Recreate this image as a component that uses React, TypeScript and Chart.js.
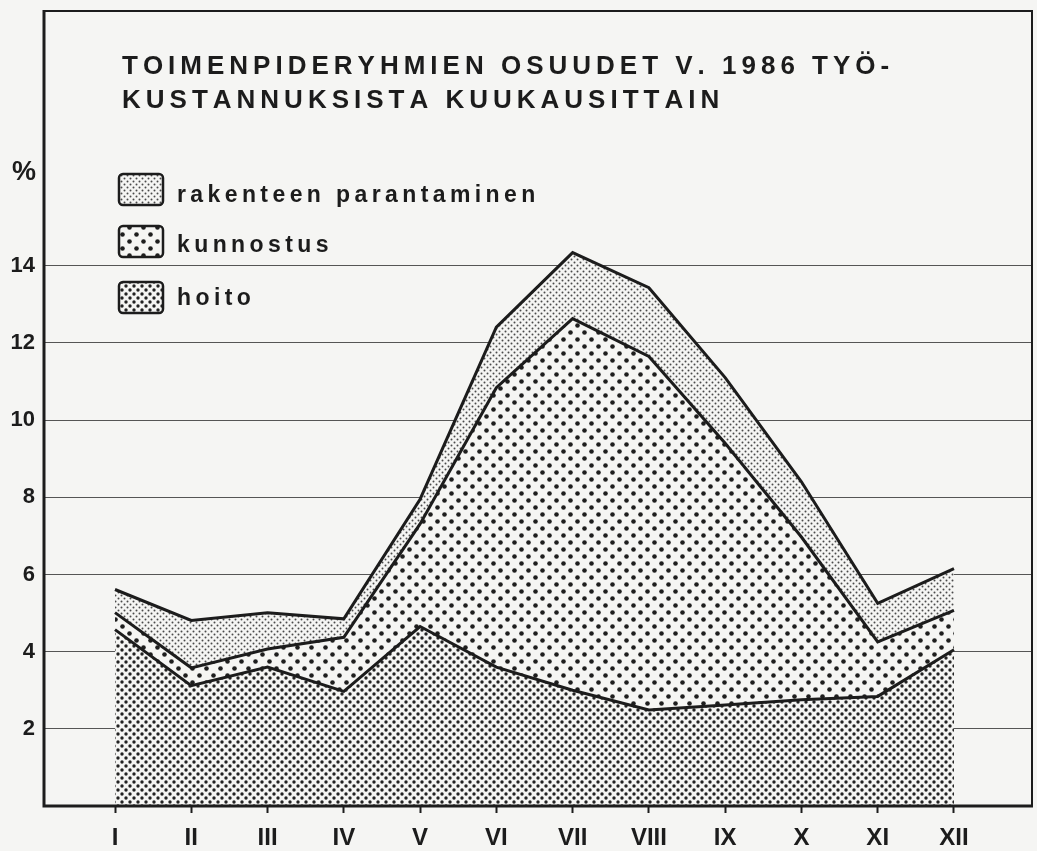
import React, { useEffect, useRef } from "react";
import { Chart, registerables } from "chart.js";

Chart.register(...registerables);

const MONTHS = ["I", "II", "III", "IV", "V", "VI", "VII", "VIII", "IX", "X", "XI", "XII"];
const HOITO = [4.57, 3.12, 3.6, 2.97, 4.65, 3.6, 3.0, 2.49, 2.62, 2.75, 2.84, 4.05];
const KUNNOSTUS = [0.44, 0.46, 0.47, 1.4, 2.66, 7.24, 9.63, 9.16, 6.78, 4.22, 1.41, 1.02];
const RAKENTEEN = [0.6, 1.23, 0.94, 0.48, 0.64, 1.57, 1.71, 1.78, 1.7, 1.43, 1.0, 1.08];
const Y_TICKS = [2, 4, 6, 8, 10, 12, 14];
const TITLE_LINES = ["TOIMENPIDERYHMIEN OSUUDET V. 1986 TYÖ-", "KUSTANNUKSISTA KUUKAUSITTAIN"];
const LEGEND_LABELS = ["rakenteen parantaminen", "kunnostus", "hoito"];
const UNIT_LABEL = "%";

const FONT = "'Liberation Sans', Arial, Helvetica, sans-serif";
const BG = "#f5f5f3";
const INK = "#1c1c1c";

function makePattern(
  ctx: CanvasRenderingContext2D,
  size: number,
  dots: [number, number][],
  r: number,
  color: string
): CanvasPattern | string {
  const c = document.createElement("canvas");
  c.width = size;
  c.height = size;
  const g = c.getContext("2d")!;
  g.fillStyle = BG;
  g.fillRect(0, 0, size, size);
  g.fillStyle = color;
  for (const [x, y] of dots) {
    g.beginPath();
    g.arc(x, y, r, 0, Math.PI * 2);
    g.fill();
  }
  return ctx.createPattern(c, "repeat") || color;
}

function drawSpaced(ctx: CanvasRenderingContext2D, text: string, x: number, y: number, spacing: number) {
  let cx = x;
  for (const ch of text) {
    ctx.fillText(ch, cx, y);
    cx += ctx.measureText(ch).width + spacing;
  }
}

export default function App() {
  const ref = useRef<HTMLCanvasElement | null>(null);

  useEffect(() => {
    const canvas = ref.current;
    if (!canvas) return;
    const ctx = canvas.getContext("2d")!;

    const patHoito = makePattern(ctx, 8, [[2, 2], [6, 6]], 1.7, "#222");
    const patKunn = makePattern(ctx, 14, [[3.5, 3.5], [10.5, 10.5]], 2.3, "#1e1e1e");
    const patRak = makePattern(ctx, 6, [[1.5, 1.5], [4.5, 4.5]], 1.0, "#4a4a4a");
    const patterns = [patRak, patKunn, patHoito];

    const bgPlugin = {
      id: "bg",
      beforeDraw(chart: any) {
        const c = chart.ctx;
        c.save();
        c.fillStyle = BG;
        c.fillRect(0, 0, chart.width, chart.height);
        c.restore();
      },
    };

    const decoPlugin = {
      id: "deco",
      afterDraw(chart: any) {
        const c: CanvasRenderingContext2D = chart.ctx;
        const a = chart.chartArea;
        c.save();
        // frame
        c.strokeStyle = INK;
        c.lineWidth = 2;
        c.beginPath();
        c.moveTo(a.left, a.top);
        c.lineTo(a.right, a.top);
        c.lineTo(a.right, a.bottom);
        c.stroke();
        c.lineWidth = 3;
        c.beginPath();
        c.moveTo(a.left, a.top - 1);
        c.lineTo(a.left, a.bottom);
        c.lineTo(a.right + 1, a.bottom);
        c.stroke();

        // title
        c.fillStyle = INK;
        c.textBaseline = "alphabetic";
        c.textAlign = "left";
        c.font = `bold 26px ${FONT}`;
        drawSpaced(c, TITLE_LINES[0], 122, 74, 5.0);
        drawSpaced(c, TITLE_LINES[1], 122, 108, 5.0);

        // unit
        c.font = `bold 27px ${FONT}`;
        c.fillText(UNIT_LABEL, 12, 180);

        // legend
        const rows = [
          { y: 174, base: 202 },
          { y: 226, base: 252 },
          { y: 282, base: 305 },
        ];
        c.font = `bold 23px ${FONT}`;
        rows.forEach((row, i) => {
          c.beginPath();
          const x0 = 119, w = 44, h = 31, r = 4;
          c.moveTo(x0 + r, row.y);
          c.arcTo(x0 + w, row.y, x0 + w, row.y + h, r);
          c.arcTo(x0 + w, row.y + h, x0, row.y + h, r);
          c.arcTo(x0, row.y + h, x0, row.y, r);
          c.arcTo(x0, row.y, x0 + w, row.y, r);
          c.closePath();
          c.fillStyle = patterns[i] as any;
          c.fill();
          c.lineWidth = 2.5;
          c.strokeStyle = INK;
          c.stroke();
          c.fillStyle = INK;
          drawSpaced(c, LEGEND_LABELS[i], 177, row.base, 4.4);
        });
        c.restore();
      },
    };

    const toPts = (arr: number[]) => arr.map((v, i) => ({ x: i, y: v }));
    const lineCommon = {
      borderColor: INK,
      borderWidth: 3,
      pointRadius: 0,
      tension: 0,
      borderJoinStyle: "miter" as const,
    };

    const chart = new Chart(canvas, {
      type: "line",
      data: {
        datasets: [
          { label: LEGEND_LABELS[2], data: toPts(HOITO), fill: "origin", backgroundColor: patHoito as any, ...lineCommon },
          { label: LEGEND_LABELS[1], data: toPts(KUNNOSTUS), fill: "-1", backgroundColor: patKunn as any, ...lineCommon },
          { label: LEGEND_LABELS[0], data: toPts(RAKENTEEN), fill: "-1", backgroundColor: patRak as any, ...lineCommon },
        ],
      },
      options: {
        responsive: false,
        animation: false,
        devicePixelRatio: 1,
        layout: { padding: { top: 11, right: 5, left: 0, bottom: 0 } },
        plugins: {
          legend: { display: false },
          tooltip: { enabled: false },
          title: { display: false },
        },
        scales: {
          x: {
            type: "linear",
            min: -0.931,
            max: 12.023,
            border: { display: false },
            grid: {
              drawOnChartArea: false,
              drawTicks: true,
              tickLength: 7,
              tickColor: INK,
              tickWidth: 2,
            } as any,
            ticks: {
              stepSize: 1,
              padding: 11,
              color: INK,
              font: { family: FONT, size: 24, weight: "bold" },
              callback: (v: any) => MONTHS[Number(v)] ?? "",
              maxRotation: 0,
              autoSkip: false,
            },
            afterBuildTicks: (scale: any) => {
              scale.ticks = MONTHS.map((_, i) => ({ value: i }));
            },
            afterFit: (scale: any) => {
              scale.height = 45;
              scale.paddingLeft = 0;
              scale.paddingRight = 0;
            },
          },
          y: {
            type: "linear",
            stacked: true,
            min: 0,
            max: 20.6,
            border: { display: false },
            grid: {
              drawTicks: false,
              color: "#555",
              lineWidth: 1,
            },
            ticks: {
              stepSize: 2,
              padding: 9,
              color: INK,
              font: { family: FONT, size: 22, weight: "bold" },
            },
            afterBuildTicks: (scale: any) => {
              scale.ticks = Y_TICKS.map((v) => ({ value: v }));
            },
            afterFit: (scale: any) => {
              scale.width = 44;
              scale.paddingTop = 0;
              scale.paddingBottom = 0;
            },
          },
        },
      },
      plugins: [bgPlugin, decoPlugin],
    });

    return () => chart.destroy();
  }, []);

  return (
    <div style={{ position: "fixed", left: 0, top: 0, width: 1037, height: 851, background: BG }}>
      <canvas ref={ref} width={1037} height={851} style={{ display: "block" }} />
    </div>
  );
}
